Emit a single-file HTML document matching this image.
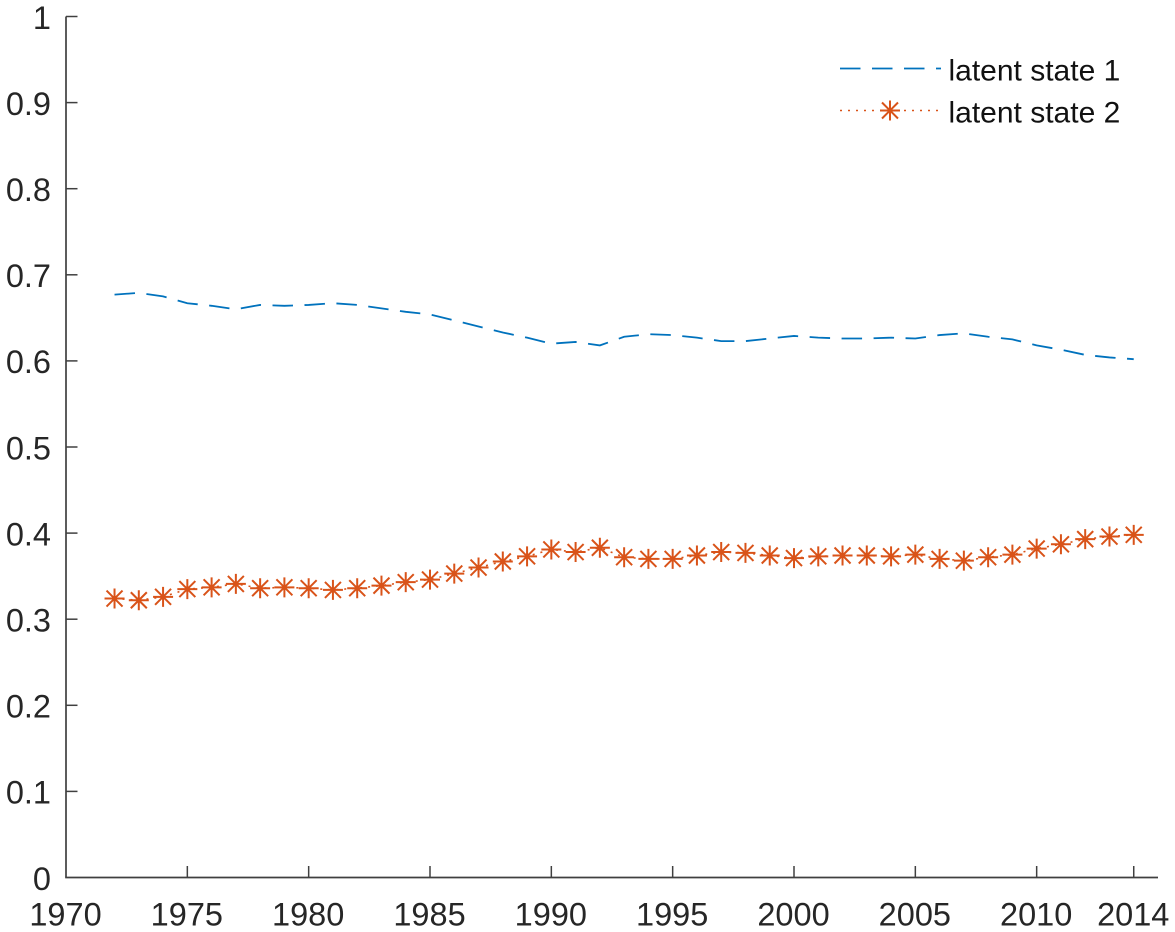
<!DOCTYPE html>
<html>
<head>
<meta charset="utf-8">
<title>Latent states chart</title>
<style>
html,body{margin:0;padding:0;background:#fff;}
svg{display:block;}
text{font-family:"Liberation Sans",Arial,sans-serif;}
</style>
</head>
<body>
<svg id="chart" width="1175" height="932" viewBox="0 0 1175 932" xmlns="http://www.w3.org/2000/svg"></svg>
<script>
const years = [1972,1973,1974,1975,1976,1977,1978,1979,1980,1981,1982,1983,1984,1985,1986,1987,1988,1989,1990,1991,1992,1993,1994,1995,1996,1997,1998,1999,2000,2001,2002,2003,2004,2005,2006,2007,2008,2009,2010,2011,2012,2013,2014];
const latentState1 = [0.677,0.679,0.675,0.667,0.664,0.660,0.665,0.664,0.665,0.667,0.665,0.661,0.657,0.654,0.647,0.640,0.633,0.627,0.620,0.622,0.618,0.628,0.631,0.630,0.627,0.623,0.623,0.626,0.629,0.627,0.626,0.626,0.627,0.626,0.630,0.632,0.628,0.625,0.618,0.613,0.607,0.604,0.602];
const latentState2 = [0.324,0.322,0.326,0.335,0.337,0.341,0.336,0.337,0.336,0.334,0.336,0.339,0.343,0.346,0.353,0.360,0.367,0.373,0.381,0.378,0.383,0.372,0.370,0.370,0.374,0.378,0.377,0.374,0.371,0.373,0.374,0.374,0.373,0.375,0.370,0.368,0.372,0.375,0.382,0.387,0.393,0.396,0.398];
const xTicks = [1970,1975,1980,1985,1990,1995,2000,2005,2010,2014];
const yTicks = [0,0.1,0.2,0.3,0.4,0.5,0.6,0.7,0.8,0.9,1];
const legendLabels = ['latent state 1','latent state 2'];

const NS = 'http://www.w3.org/2000/svg';
const svg = document.getElementById('chart');
const X0 = 66, X1 = 1158, Y0 = 877.5, Y1 = 16.5;
const XMIN = 1970, XMAX = 2015;
const AXIS = '#404040', TEXT = '#262626', BLUE = '#0072bd', ORANGE = '#d95319';
function xScale(v){ return X0 + (v - XMIN) / (XMAX - XMIN) * (X1 - X0); }
function yScale(v){ return Y0 - v * (Y0 - Y1); }
function make(tag, attrs, parent){
  const el = document.createElementNS(NS, tag);
  for (const k in attrs) el.setAttribute(k, attrs[k]);
  (parent || svg).appendChild(el);
  return el;
}
function group(name){
  const g = make('g', {});
  
  
  return g;
}
function asterisk(parent, cx, cy, r){
  const d = r * 0.8;
  const p = 'M' + (cx - r) + ' ' + cy + 'H' + (cx + r) +
    'M' + cx + ' ' + (cy - r) + 'V' + (cy + r) +
    'M' + (cx - d) + ' ' + (cy - d) + 'L' + (cx + d) + ' ' + (cy + d) +
    'M' + (cx - d) + ' ' + (cy + d) + 'L' + (cx + d) + ' ' + (cy - d);
  return make('path', {d: p, fill: 'none', stroke: ORANGE, 'stroke-width': 2}, parent);
}

/* axes */
const axes = group('axes');
const yAxis = make('line', {x1: X0, y1: Y0, x2: X0, y2: Y1, stroke: AXIS, 'stroke-width': 1.7}, axes);


const xAxis = make('line', {x1: X0 - 0.8, y1: Y0, x2: X1, y2: Y0, stroke: AXIS, 'stroke-width': 1.7}, axes);



xTicks.forEach(function(t){
  const x = xScale(t);
  if (t !== XMIN) {
    const tick = make('line', {x1: x, y1: Y0, x2: x, y2: Y0 - 11.5, stroke: AXIS, 'stroke-width': 1.5}, axes);
    
    
  }
  const label = make('text', {x: x - 0.5, y: 925.5, 'text-anchor': 'middle', 'font-size': 32.5, fill: TEXT}, axes);
  
  
  label.textContent = t;
});
yTicks.forEach(function(t){
  const y = yScale(t);
  if (t !== 0) {
    const tick = make('line', {x1: X0, y1: y, x2: X0 + 11.5, y2: y, stroke: AXIS, 'stroke-width': 1.5}, axes);
    
    
  }
  const label = make('text', {x: 51, y: y + 12.3, 'text-anchor': 'end', 'font-size': 32.5, fill: TEXT}, axes);
  
  
  label.textContent = t;
});

/* series 1 */
const s1 = group('series-latent-state-1');
const s1Line = make('polyline', {
  points: years.map(function(y, i){ return xScale(y) + ',' + yScale(latentState1[i]); }).join(' '),
  fill: 'none', stroke: BLUE, 'stroke-width': 1.8, 'stroke-dasharray': '20.5 11.5'
}, s1);



/* series 2 */
const s2 = group('series-latent-state-2');
const s2Line = make('polyline', {
  points: years.map(function(y, i){ return xScale(y) + ',' + yScale(latentState2[i]); }).join(' '),
  fill: 'none', stroke: ORANGE, 'stroke-width': 1.6, 'stroke-dasharray': '2 6'
}, s2);


years.forEach(function(y, i){
  const m = asterisk(s2, xScale(y), yScale(latentState2[i]), 10);
  
  
});

/* legend */
const legend = group('legend');
const l1 = make('line', {x1: 840, y1: 68.5, x2: 941, y2: 68.5, stroke: BLUE, 'stroke-width': 1.8, 'stroke-dasharray': '20.5 11.5'}, legend);


const l2 = make('line', {x1: 840, y1: 110.5, x2: 941, y2: 110.5, stroke: ORANGE, 'stroke-width': 1.6, 'stroke-dasharray': '2 6'}, legend);


const lm = asterisk(legend, 890, 110.5, 10);


legendLabels.forEach(function(txt, i){
  const t = make('text', {x: 948.5, y: 80.5 + i * 42, 'font-size': 30, fill: '#111'}, legend);
  
  
  t.textContent = txt;
});
</script>
</body>
</html>
